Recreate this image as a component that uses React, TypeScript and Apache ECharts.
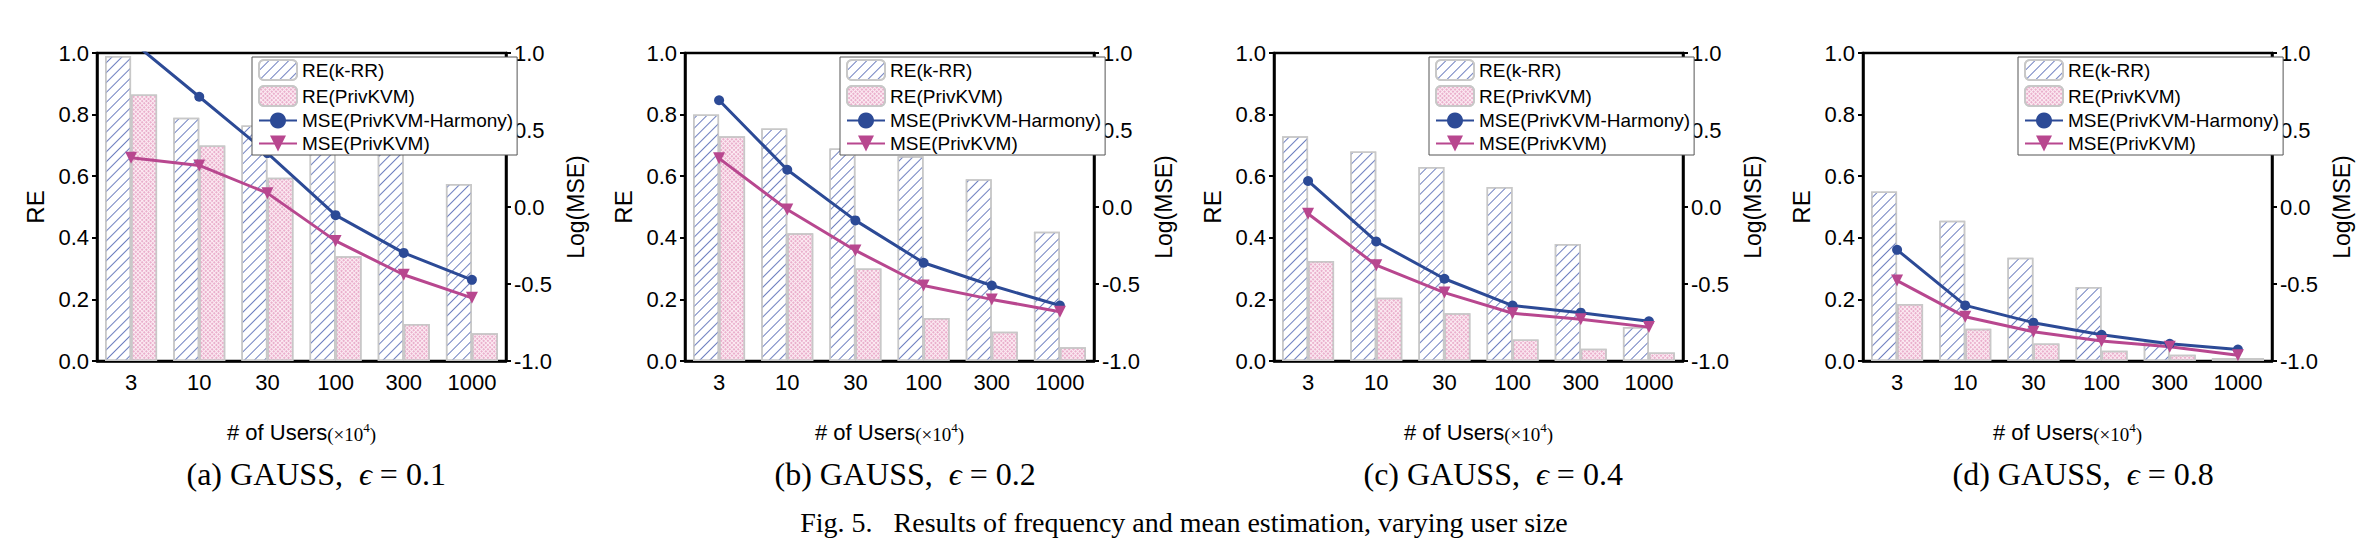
import React, { useEffect, useRef } from "react";
import * as echarts from "echarts";

const categories = ["3", "10", "30", "100", "300", "1000"];
const panelCaptions = ["(a) GAUSS,", "(b) GAUSS,", "(c) GAUSS,", "(d) GAUSS,"];
const epsilons = ["0.1", "0.2", "0.4", "0.8"];
const reKRR = [
  [0.99, 0.79, 0.765, 0.74, 0.675, 0.575],
  [0.8, 0.755, 0.69, 0.665, 0.59, 0.42],
  [0.73, 0.68, 0.63, 0.565, 0.38, 0.11],
  [0.55, 0.455, 0.335, 0.24, 0.06, 0.01],
];
const rePriv = [
  [0.865, 0.7, 0.595, 0.34, 0.12, 0.09],
  [0.73, 0.415, 0.3, 0.14, 0.095, 0.045],
  [0.325, 0.205, 0.155, 0.07, 0.04, 0.028],
  [0.185, 0.105, 0.057, 0.033, 0.02, 0.01],
];
const mseHarmony = [
  [1.08, 0.716, 0.35, -0.053, -0.298, -0.473],
  [0.693, 0.242, -0.087, -0.362, -0.51, -0.64],
  [0.169, -0.224, -0.466, -0.64, -0.686, -0.742],
  [-0.278, -0.639, -0.751, -0.83, -0.888, -0.926],
];
const msePriv = [
  [0.32, 0.27, 0.09, -0.22, -0.44, -0.59],
  [0.316, -0.016, -0.282, -0.51, -0.6, -0.68],
  [-0.044, -0.378, -0.556, -0.69, -0.729, -0.78],
  [-0.478, -0.713, -0.81, -0.87, -0.908, -0.962],
];

const lefts = [97, 685, 1274, 1863];
const W = 409;
const TOP = 53;
const H = 308;
const sans = "Liberation Sans, Arial, sans-serif";
const serif = "Liberation Serif, Times New Roman, serif";
const BLUE = "#2c4a96";
const PINK = "#b8478f";

const krrStyle = {
  color: "#ffffff",
  borderColor: "#c8c8c8",
  borderWidth: 1.5,
  decal: {
    symbol: "rect",
    symbolSize: 1,
    color: "#6f80c0",
    dashArrayX: [1, 0],
    dashArrayY: [1, 6],
    rotation: -Math.PI / 4,
  },
};
const privStyle = {
  color: "#fcecf3",
  borderColor: "#c8c8c8",
  borderWidth: 1.5,
  decal: {
    symbol: "circle",
    symbolSize: 0.8,
    color: "#e08db6",
    dashArrayX: [2, 1],
    dashArrayY: [2, 1],
    rotation: Math.PI / 4,
  },
};

export default function App() {
  const ref = useRef<HTMLDivElement>(null);
  useEffect(() => {
    document.body.style.margin = "0";
    const chart = echarts.init(ref.current!, null, { renderer: "svg" });
    const grid: any[] = [];
    const xAxis: any[] = [];
    const yAxis: any[] = [];
    const series: any[] = [];
    const legend: any[] = [];
    const graphic: any[] = [];
    for (let p = 0; p < 4; p++) {
      grid.push({
        left: lefts[p], top: TOP, width: W, height: H,
        show: true, borderColor: "#000", borderWidth: 2.5, backgroundColor: "transparent",
      });
      xAxis.push({
        type: "category", gridIndex: p, data: categories,
        axisLine: { lineStyle: { color: "#000", width: 2.5 } },
        axisTick: { show: false },
        axisLabel: { color: "#000", fontSize: 22, fontFamily: sans, margin: 10 },
        name: "{a|# of Users}{b|(×10}{c|4}{b|)}",
        nameLocation: "middle", nameGap: 60,
        nameTextStyle: {
          rich: {
            a: { fontSize: 22, fontFamily: sans, color: "#000" },
            b: { fontSize: 19, fontFamily: serif, color: "#000", verticalAlign: "bottom" },
            c: { fontSize: 13, fontFamily: serif, color: "#000", verticalAlign: "top", padding: [0, 0, 10, 0] },
          },
        },
      });
      yAxis.push({
        type: "value", gridIndex: p, min: 0, max: 1, interval: 0.2,
        axisLine: { show: true, lineStyle: { color: "#000", width: 2.5 } },
        axisTick: { show: true, length: 5, lineStyle: { width: 2 } },
        splitLine: { show: false },
        axisLabel: { color: "#000", fontSize: 22, fontFamily: sans, formatter: (v: number) => v.toFixed(1) },
        name: "RE", nameLocation: "middle", nameGap: 50,
        nameTextStyle: { fontSize: 24, fontFamily: sans, color: "#000" },
      });
      yAxis.push({
        type: "value", gridIndex: p, min: -1, max: 1, interval: 0.5, position: "right",
        axisLine: { show: true, lineStyle: { color: "#000", width: 2.5 } },
        axisTick: { show: true, length: 5, lineStyle: { width: 2 } },
        splitLine: { show: false },
        axisLabel: { color: "#000", fontSize: 22, fontFamily: sans, formatter: (v: number) => v.toFixed(1) },
        name: "Log(MSE)", nameLocation: "middle", nameGap: 58,
        nameTextStyle: { fontSize: 23, fontFamily: sans, color: "#000" },
      });
      const yl = p * 2, yr = p * 2 + 1;
      series.push({
        name: "RE(k-RR)", type: "bar", xAxisIndex: p, yAxisIndex: yl, data: reKRR[p],
        barWidth: 26, barGap: "0%", itemStyle: krrStyle,
      });
      series.push({
        name: "RE(PrivKVM)", type: "bar", xAxisIndex: p, yAxisIndex: yl, data: rePriv[p],
        barWidth: 26, barGap: "0%", itemStyle: privStyle,
      });
      series.push({
        name: "MSE(PrivKVM-Harmony)", type: "line", xAxisIndex: p, yAxisIndex: yr, data: mseHarmony[p],
        symbol: "circle", symbolSize: 10, lineStyle: { color: BLUE, width: 3 }, itemStyle: { color: BLUE },
      });
      series.push({
        name: "MSE(PrivKVM)", type: "line", xAxisIndex: p, yAxisIndex: yr, data: msePriv[p],
        symbol: "triangle", symbolRotate: 180, symbolSize: 12, lineStyle: { color: PINK, width: 3 }, itemStyle: { color: PINK },
      });
      legend.push({
        orient: "vertical", left: lefts[p] + 155, top: TOP + 4, width: 248,
        itemWidth: 38, itemHeight: 20, itemGap: 4, padding: [2, 4, 2, 6],
        borderColor: "#555", borderWidth: 1, backgroundColor: "#fff",
        textStyle: { fontSize: 19, fontFamily: sans, color: "#000" },
        data: ["RE(k-RR)", "RE(PrivKVM)", "MSE(PrivKVM-Harmony)", "MSE(PrivKVM)"],
      });
      graphic.push({
        type: "text", left: lefts[p] + W / 2 - 115, top: 458,
        style: {
          text: `{a|${panelCaptions[p]}  }{e|ϵ}{a| = ${epsilons[p]}}`,
          rich: {
            a: { fontSize: 32, fontFamily: serif, fill: "#000" },
            e: { fontSize: 32, fontFamily: serif, fontStyle: "italic", fill: "#000" },
          },
        },
      });
    }
    graphic.push({
      type: "text", left: "center", top: 508,
      style: {
        text: "Fig. 5.   Results of frequency and mean estimation, varying user size",
        fontSize: 28, fontFamily: serif, fill: "#000",
      },
    });
    chart.setOption({ animation: false, grid, xAxis, yAxis, series, legend, graphic });
    return () => chart.dispose();
  }, []);
  return <div ref={ref} style={{ width: 2368, height: 550 }} />;
}
